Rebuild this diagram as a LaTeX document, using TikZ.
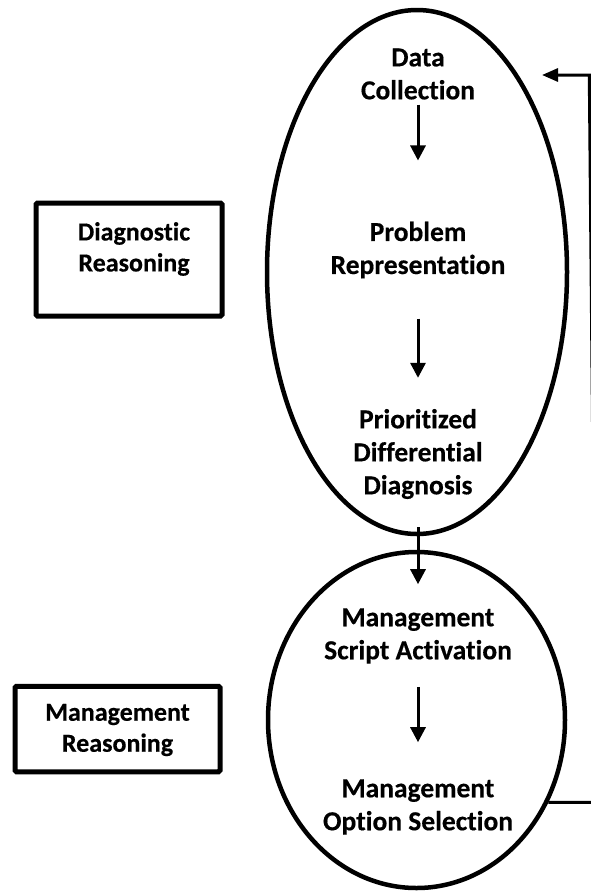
\documentclass[tikz,border=0pt]{standalone}
\usepackage{fontspec}
\setmainfont{Carlito}[Ligatures=NoCommon, BoldFeatures={FakeBold=0.4}]
\usetikzlibrary{shapes.geometric,arrows.meta}

\begin{document}
\begin{tikzpicture}[x=1pt,y=-1pt,
  lbl/.style={font=\fontsize{27.5}{33}\selectfont\bfseries, align=center, inner sep=0pt},
  boxlbl/.style={font=\fontsize{26}{31}\selectfont\bfseries, align=center, inner sep=0pt},
  oval/.style={draw, ellipse, line width=4.5pt, inner sep=0pt},
  framebox/.style={draw, rectangle, line width=5pt, rounded corners=1.5pt, inner sep=0pt},
  flow/.style={line width=3pt, -{Triangle[length=15pt,width=15pt]}},
  feedback/.style={line width=3pt, -{Triangle[length=16pt,width=13pt]}},
  ]
\useasboundingbox (0,0) rectangle (590,892);

% the two reasoning phases
\node[oval, minimum width=300, minimum height=524] (dx) at (417,272) {};
\node[oval, minimum width=297, minimum height=336] (mx) at (416.5,720) {};

% steps inside the phases
\node[lbl] (dc)  at (418,74)  {Data\\Collection};
\node[lbl] (pr)  at (418,250) {Problem\\Representation};
\node[lbl] (pdd) at (418,454) {Prioritized\\Differential\\Diagnosis};
\node[lbl] (msa) at (418,636) {Management\\Script Activation};
\node[lbl] (mos) at (418,807) {Management\\Option Selection};

\draw[flow, shorten <=5pt,  shorten >=61pt] (dc.south)  -- (pr.north);
\draw[flow, shorten <=40pt, shorten >=31pt] (pr.south)  -- (pdd.north);
\draw[flow, shorten <=28pt, shorten >=24pt] (pdd.south) -- (msa.north);
\draw[flow, shorten <=23pt, shorten >=37pt] (msa.south) -- (mos.north);

% phase labels
\node[framebox, minimum width=186, minimum height=113] (dbox) at (129,259.5) {};
\node[boxlbl] (dtxt) at (134,249) {Diagnostic\\Reasoning};
\node[framebox, minimum width=205, minimum height=85.5] (mbox) at (117.5,729) {};
\node[boxlbl] (mtxt) at (117.5,730) {Management\\Reasoning};

% loop back from management to data collection
\coordinate (fbB) at (596,802);
\coordinate (fbT) at (589.3,75);
\coordinate (fbEnd) at (542,75);
\draw[feedback] (mx.-32) -- (mx.-32 -| fbB) -- (fbT) -- (fbEnd);
\end{tikzpicture}
\end{document}
